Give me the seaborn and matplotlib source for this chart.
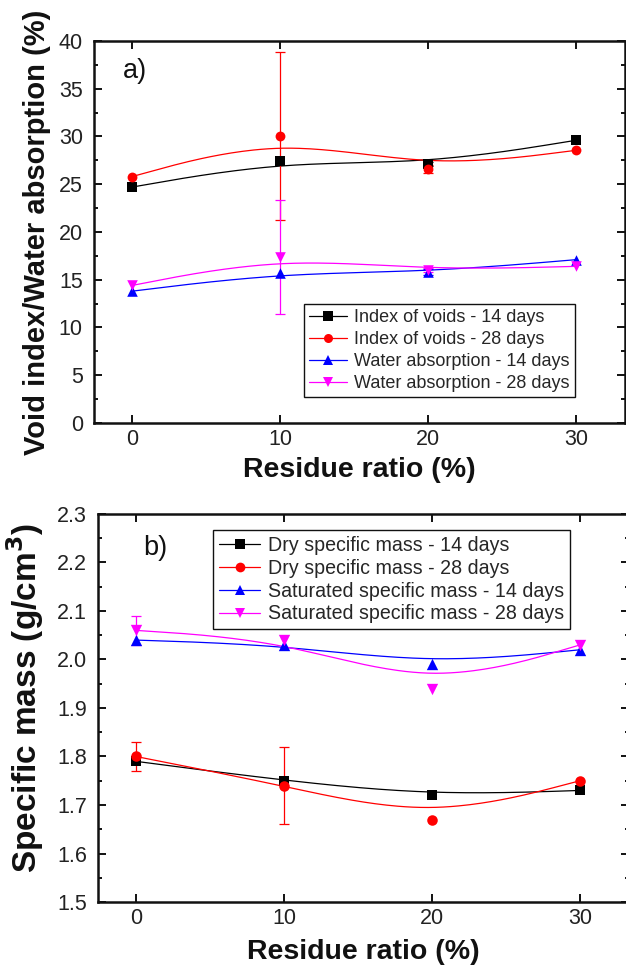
import matplotlib
matplotlib.use("Agg")
import matplotlib.pyplot as plt
import seaborn as sns
import pandas as pd
import numpy as np
from matplotlib.lines import Line2D
from matplotlib.ticker import MultipleLocator, NullLocator, FormatStrFormatter

sns.set_theme(style="ticks")
plt.rcParams['font.family'] = ['Liberation Sans', 'DejaVu Sans']

# x values (residue ratio, %)
ratio = [0, 10, 20, 30]

# panel a) index of voids / water absorption (%)
voids_14 = [24.7, 27.4, 27.1, 29.6]
voids_14_err = [0, 0, 0.2, 0]
voids_28 = [25.8, 30.05, 26.6, 28.55]
voids_28_err = [0, 8.8, 0.4, 0]
absorp_14 = [13.8, 15.7, 15.8, 17.1]
absorp_14_err = [0, 0, 0.3, 0]
absorp_28 = [14.4, 17.4, 16.0, 16.4]
absorp_28_err = [0, 6.0, 0.2, 0]

# panel b) specific mass (g/cm3)
dry_14 = [1.79, 1.75, 1.72, 1.73]
dry_14_err = [0, 0, 0, 0]
dry_28 = [1.80, 1.74, 1.67, 1.75]
dry_28_err = [0.03, 0.08, 0, 0]
sat_14 = [2.04, 2.03, 1.99, 2.02]
sat_14_err = [0, 0, 0, 0]
sat_28 = [2.06, 2.04, 1.94, 2.03]
sat_28_err = [0.03, 0, 0, 0]

labels_a = ['Index of voids - 14 days', 'Index of voids - 28 days',
            'Water absorption - 14 days', 'Water absorption - 28 days']
labels_b = ['Dry specific mass - 14 days', 'Dry specific mass - 28 days',
            'Saturated specific mass - 14 days', 'Saturated specific mass - 28 days']

colors = ['#000000', '#ff0000', '#0000ff', '#ff00ff']
markers = ['s', 'o', '^', 'v']
msizes = [42, 50, 58, 58]


def bspline(x, y, n=40):
    # uniform cubic B-spline, end points tripled (origin style "B-Spline" connect)
    px = np.r_[[x[0]] * 2, x, [x[-1]] * 2].astype(float)
    py = np.r_[[y[0]] * 2, y, [y[-1]] * 2].astype(float)
    t = np.linspace(0, 1, n)
    b0 = (1 - t) ** 3 / 6
    b1 = (3 * t ** 3 - 6 * t ** 2 + 4) / 6
    b2 = (-3 * t ** 3 + 3 * t ** 2 + 3 * t + 1) / 6
    b3 = t ** 3 / 6
    xs, ys = [], []
    for i in range(len(px) - 3):
        xs.append(b0 * px[i] + b1 * px[i + 1] + b2 * px[i + 2] + b3 * px[i + 3])
        ys.append(b0 * py[i] + b1 * py[i + 1] + b2 * py[i + 2] + b3 * py[i + 3])
    return pd.DataFrame({'x': np.concatenate(xs), 'y': np.concatenate(ys)})


def draw_series(ax, y, err, k, scale=1.0):
    c = colors[k]
    sns.lineplot(data=bspline(ratio, y), x='x', y='y', sort=False, estimator=None,
                 color=c, lw=0.9, ax=ax, zorder=2)
    d = pd.DataFrame({'x': ratio, 'y': y, 'e': err})
    de = d[d['e'] > 0]
    if len(de):
        ax.errorbar(de['x'], de['y'], yerr=de['e'], fmt='none', ecolor=c,
                    elinewidth=0.9, capsize=3.5, capthick=0.9, zorder=2)
    sns.scatterplot(data=d, x='x', y='y', marker=markers[k], s=msizes[k] * scale,
                    color=c, edgecolor=c, linewidth=0, ax=ax, zorder=3, legend=False)


def style_axes(ax, ylim, major, minor):
    ax.set_xlim(-2.57, 33.3)
    ax.set_ylim(*ylim)
    ax.set_xticks(ratio)
    ax.xaxis.set_minor_locator(NullLocator())
    ax.yaxis.set_major_locator(MultipleLocator(major))
    ax.yaxis.set_minor_locator(MultipleLocator(minor))
    ax.tick_params(which='both', direction='in', top=True, right=True,
                   width=1.4, colors='#111111', labelcolor='#222222')
    ax.tick_params(which='major', length=5.5, labelsize=15.5)
    ax.tick_params(which='minor', length=3)
    ax.tick_params(axis='y', pad=8)
    ax.tick_params(axis='x', pad=4)
    for s in ax.spines.values():
        s.set_linewidth(1.8)
        s.set_color('#111111')


def legend_handles(ms):
    return [Line2D([0], [0], color=colors[k], lw=0.9, marker=markers[k],
                   markersize=ms, markeredgewidth=0) for k in range(4)]


fig = plt.figure(figsize=(6.26, 9.67), dpi=100)
ax1 = fig.add_axes([0.150, 0.5626, 0.848, 0.395])
ax2 = fig.add_axes([0.1565, 0.0672, 0.848, 0.4013])

# panel a
for k, (y, e) in enumerate([(voids_14, voids_14_err), (voids_28, voids_28_err),
                            (absorp_14, absorp_14_err), (absorp_28, absorp_28_err)]):
    draw_series(ax1, y, e, k)
style_axes(ax1, (0, 40), 5, 2.5)
ax1.set_xlabel('Residue ratio (%)', fontsize=20.5, fontweight='bold', color='#111111')
ax1.set_ylabel('Void index/Water absorption (%)', fontsize=21, fontweight='bold', color='#111111')
ax1.xaxis.set_label_coords(0.5, -0.088)
ax1.yaxis.set_label_coords(-0.08, 0.5)
ax1.text(0.055, 0.921, 'a)', transform=ax1.transAxes, fontsize=19.5,
         ha='left', va='center', color='#111111')
leg1 = ax1.legend(handles=legend_handles(6.5), labels=labels_a, loc='upper left',
                  bbox_to_anchor=(0.395, 0.312), borderaxespad=0, fontsize=13,
                  frameon=True, fancybox=False, edgecolor='#111111', framealpha=1,
                  handlelength=2.1, handletextpad=0.4, labelspacing=0.27,
                  borderpad=0.3)
leg1.get_frame().set_linewidth(1.0)

# panel b
for k, (y, e) in enumerate([(dry_14, dry_14_err), (dry_28, dry_28_err),
                            (sat_14, sat_14_err), (sat_28, sat_28_err)]):
    draw_series(ax2, y, e, k, scale=1.15)
style_axes(ax2, (1.5, 2.3), 0.1, 0.05)
ax2.yaxis.set_major_formatter(FormatStrFormatter('%.1f'))
ax2.set_xlabel('Residue ratio (%)', fontsize=20.5, fontweight='bold', color='#111111')
ax2.set_ylabel('Specific mass (g/cm$^\\mathbf{3}$)', fontsize=24, fontweight='bold', color='#111111')
ax2.xaxis.set_label_coords(0.5, -0.095)
ax2.yaxis.set_label_coords(-0.098, 0.526)
ax2.text(0.085, 0.912, 'b)', transform=ax2.transAxes, fontsize=19.5,
         ha='left', va='center', color='#111111')
leg2 = ax2.legend(handles=legend_handles(7), labels=labels_b, loc='upper left',
                  bbox_to_anchor=(0.217, 0.959), borderaxespad=0, fontsize=14.1,
                  frameon=True, fancybox=False, edgecolor='#111111', framealpha=1,
                  handlelength=2.1, handletextpad=0.4, labelspacing=0.2,
                  borderpad=0.3)
leg2.get_frame().set_linewidth(1.0)

fig.savefig('out.png', dpi=100)
